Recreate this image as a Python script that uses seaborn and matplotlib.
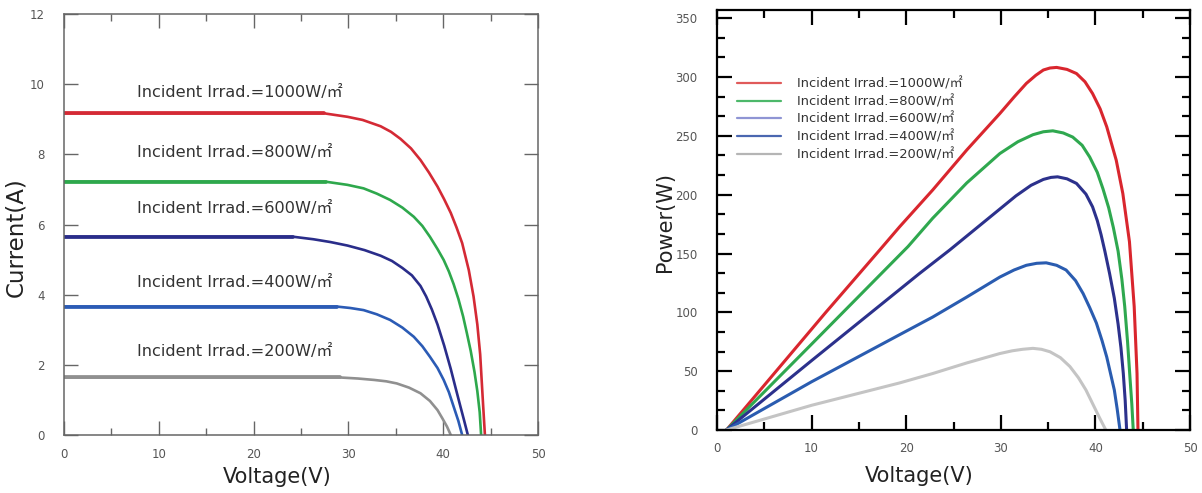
import matplotlib
matplotlib.use("Agg")
import matplotlib.pyplot as plt
from matplotlib.ticker import MultipleLocator
import seaborn as sns

# irradiance levels, top to bottom
irradiance = [1000, 800, 600, 400, 200]
labels = [f"Incident Irrad.={g}W/㎡" for g in irradiance]

# I-V curves (Voltage V, Current A)
iv_v = {
    1000: [0, 27.4, 29.9, 31.5, 33.4, 34.5, 35.5, 36.6, 37.6, 38.5, 39.4, 40.1, 40.8, 41.4, 42.0,
           42.7, 43.2, 43.6, 43.9, 44.05, 44.2, 44.4],
    800: [0, 27.6, 29.9, 31.6, 33.0, 34.4, 35.7, 36.9, 37.8, 38.6, 39.4, 40.05, 40.6, 41.1, 41.6,
          42.1, 42.5, 42.9, 43.3, 43.6, 43.85, 44.0],
    600: [0, 24.2, 26.3, 28.1, 29.9, 31.7, 33.4, 34.6, 35.7, 36.7, 37.6, 38.2, 38.8, 39.4, 40.1,
          40.8, 41.3, 41.8, 42.2, 42.6],
    400: [0, 28.8, 30.2, 31.6, 33.0, 34.4, 35.7, 36.9, 37.8, 38.6, 39.4, 40.05, 40.6, 41.1, 41.6, 42.0],
    200: [0, 29.1, 31.0, 32.7, 34.0, 35.1, 36.4, 37.6, 38.6, 39.4, 39.9, 40.4, 40.8],
}
iv_i = {
    1000: [9.17, 9.17, 9.07, 8.98, 8.80, 8.64, 8.44, 8.17, 7.84, 7.48, 7.08, 6.72, 6.33, 5.92, 5.47,
           4.70, 3.95, 3.15, 2.30, 1.60, 0.90, 0],
    800: [7.22, 7.22, 7.13, 7.03, 6.88, 6.70, 6.48, 6.22, 5.96, 5.65, 5.30, 4.99, 4.66, 4.30, 3.88,
          3.38, 2.90, 2.40, 1.80, 1.25, 0.65, 0],
    600: [5.65, 5.65, 5.58, 5.50, 5.40, 5.27, 5.11, 4.96, 4.76, 4.55, 4.25, 3.95, 3.58, 3.15, 2.55,
          1.88, 1.35, 0.83, 0.42, 0],
    400: [3.66, 3.66, 3.62, 3.56, 3.44, 3.28, 3.06, 2.80, 2.53, 2.23, 1.91, 1.57, 1.22, 0.81, 0.40, 0],
    200: [1.64, 1.64, 1.61, 1.57, 1.53, 1.47, 1.35, 1.19, 0.97, 0.71, 0.48, 0.24, 0],
}
# knee voltage where the flat (thicker) part ends
flat_end = {1000: 27.4, 800: 27.6, 600: 24.2, 400: 28.8, 200: 29.1}

# P-V curves (Voltage V, Power W)
pv_v = {
    1000: [1.0, 11.5, 17.2, 19.3, 22.8, 26.4, 29.9, 31.4, 32.7, 33.7, 34.5, 35.2, 35.9, 37.0, 38.0,
           38.9, 39.7, 40.5, 41.2, 42.2, 42.9, 43.6, 44.1, 44.4, 44.5],
    800: [1.0, 10.0, 20.2, 22.8, 26.4, 29.9, 31.8, 33.4, 34.5, 35.5, 36.6, 37.6, 38.6, 39.4, 40.2,
          40.8, 41.4, 41.9, 42.4, 42.8, 43.1, 43.4, 43.65, 43.85, 44.0],
    600: [1.0, 10.0, 21.4, 24.6, 28.1, 31.6, 33.2, 34.5, 35.3, 36.0, 37.0, 38.0, 39.0, 39.7, 40.2,
          40.6, 41.0, 41.5, 42.0, 42.4, 42.7, 42.95, 43.15, 43.3],
    400: [1.0, 10.0, 19.3, 22.8, 26.4, 29.9, 31.4, 32.7, 33.8, 34.8, 35.9, 36.9, 37.9, 38.7, 39.4,
          40.1, 40.7, 41.2, 41.6, 42.0, 42.3, 42.6],
    200: [1.0, 10.0, 19.3, 22.8, 26.4, 29.9, 31.2, 32.3, 33.4, 34.3, 35.2, 36.3, 37.3, 38.2, 39.0,
          39.7, 40.4, 41.1],
}
pv_p = {
    1000: [0, 100, 153, 172.7, 204, 238, 269, 283, 294.6, 301.5, 306, 307.7, 308.2, 306.5, 303,
           296, 286, 273, 257.7, 229.4, 201, 160, 105, 48, 0],
    800: [0, 73, 156, 180, 210, 235, 245, 251, 253.5, 254.3, 252.5, 249, 242, 232, 219,
          205, 189, 172, 152, 128, 105, 75, 45, 22, 0],
    600: [0, 59, 133, 153, 176, 199, 208, 213, 214.7, 215.2, 213.5, 209.6, 200.5, 189.7, 178,
          166, 152, 133, 112, 90, 70, 48, 25, 0],
    400: [0, 41, 81, 96, 113, 130, 136, 140, 141.7, 142.1, 140, 136, 127, 116, 104,
          91, 76, 62, 48, 34, 18, 0],
    200: [0, 21, 40, 48, 57, 65, 67.3, 68.6, 69.4, 68.6, 66.5, 61.5, 54, 44.5, 34,
          22.5, 11, 0],
}

# text label y positions (Current A) in left chart
label_y = [9.75, 8.04, 6.47, 4.36, 2.37]

iv_colors = ["#d42a35", "#2ea84c", "#2a2d8a", "#2b5bb5", "#909090"]
pv_colors = ["#d9262e", "#2fa84f", "#2c318c", "#2a5cb0", "#c4c4c4"]
legend_colors = ["#e05a5a", "#4db86a", "#8f95d4", "#4a67b0", "#b5b5b5"]

sns.set_style("ticks")
plt.rcParams['font.family'] = ['DejaVu Sans', 'Noto Sans CJK SC']

fig = plt.figure(figsize=(12.02, 4.93), dpi=100)
ax1 = fig.add_axes([64 / 1202, 58 / 493, 474 / 1202, 421 / 493])
ax2 = fig.add_axes([717 / 1202, 63 / 493, 473 / 1202, 420 / 493])

# ---- left: I-V ----
for g, c in zip(irradiance, iv_colors):
    sns.lineplot(x=iv_v[g], y=iv_i[g], sort=False, estimator=None,
                 color=c, lw=1.9, ax=ax1)
    k = iv_v[g].index(flat_end[g])
    sns.lineplot(x=iv_v[g][:k + 1], y=iv_i[g][:k + 1], sort=False,
                 estimator=None, color=c, lw=2.7, ax=ax1)

for lab, y in zip(labels, label_y):
    ax1.text(7.7, y, lab, fontsize=11.6, color="#333333", va="center", ha="left")

ax1.set_xlim(0, 50)
ax1.set_ylim(0, 12)
ax1.xaxis.set_major_locator(MultipleLocator(10))
ax1.xaxis.set_minor_locator(MultipleLocator(5))
ax1.yaxis.set_major_locator(MultipleLocator(2))
ax1.tick_params(which="both", direction="in", top=True, right=True,
                color="#666666", labelcolor="#555555", labelsize=8.5)
ax1.tick_params(which="major", length=10, width=1)
ax1.tick_params(which="minor", length=5, width=1)
ax1.tick_params(axis="y", pad=14)
ax1.tick_params(axis="x", pad=9)
for s in ax1.spines.values():
    s.set_color("#666666")
    s.set_linewidth(1.1)
ax1.set_xlabel("Voltage(V)", fontsize=15, color="#222222")
ax1.set_ylabel("Current(A)", fontsize=16.5, color="#222222")
ax1.xaxis.set_label_coords(0.449, -0.075)
ax1.yaxis.set_label_coords(-0.078, 0.47)

# ---- right: P-V ----
for g, c, lab in zip(irradiance, pv_colors, labels):
    sns.lineplot(x=pv_v[g], y=pv_p[g], sort=False, estimator=None,
                 color=c, lw=2.2, ax=ax2, label=lab)

leg = ax2.legend(loc="upper left", bbox_to_anchor=(0.042, 0.84), frameon=False,
                 fontsize=9.4, handlelength=3.4, handletextpad=1.2,
                 labelspacing=0.34, borderpad=0, borderaxespad=0)
for line, c in zip(leg.get_lines(), legend_colors):
    line.set_color(c)
    line.set_linewidth(1.6)
for t in leg.get_texts():
    t.set_color("#333333")

ax2.set_xlim(0, 50)
ax2.set_ylim(0, 357)
ax2.xaxis.set_major_locator(MultipleLocator(10))
ax2.xaxis.set_minor_locator(MultipleLocator(5))
ax2.yaxis.set_major_locator(MultipleLocator(50))
ax2.yaxis.set_minor_locator(MultipleLocator(50 / 3))
ax2.tick_params(which="both", direction="in", top=True, right=True,
                color="black", labelcolor="#555555", labelsize=8.5, width=1.6)
ax2.tick_params(which="major", length=11)
ax2.tick_params(which="minor", length=6)
ax2.tick_params(axis="y", pad=14)
ax2.tick_params(axis="x", pad=9)
for s in ax2.spines.values():
    s.set_color("black")
    s.set_linewidth(1.6)
ax2.set_xlabel("Voltage(V)", fontsize=15, color="#222222")
ax2.set_ylabel("Power(W)", fontsize=15, color="#222222")
ax2.xaxis.set_label_coords(0.427, -0.085)
ax2.yaxis.set_label_coords(-0.088, 0.495)

fig.savefig("out.png", dpi=100)
